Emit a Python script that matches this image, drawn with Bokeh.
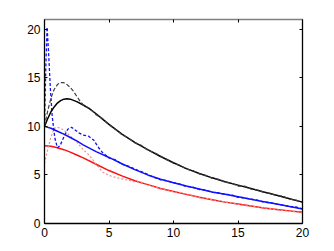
from bokeh.plotting import figure
from bokeh.models import LinearAxis, FixedTicker, Range1d
from bokeh.embed import file_html
from bokeh.resources import INLINE

# ---- data ----
black_x = [0, 0.25, 0.5, 0.75, 1.0, 1.25, 1.5, 1.75, 2.0, 2.5, 3, 3.5, 4, 4.5, 5, 6, 7, 8, 9, 10,
           11, 12, 13, 14, 15, 16, 17, 18, 19, 20]
black_y = [10.0, 10.8, 11.5, 12.0, 12.4, 12.65, 12.8, 12.85, 12.8, 12.55, 12.2, 11.8, 11.3, 10.75,
           10.2, 9.2, 8.35, 7.6, 6.9, 6.25, 5.65, 5.15, 4.7, 4.3, 3.95, 3.6, 3.25, 2.9, 2.55, 2.2]

blackd_x = [0, 0.25, 0.5, 0.75, 1.0, 1.25, 1.5, 1.75, 2.0, 2.25, 2.5, 2.75, 3.0, 3.5, 4, 4.5, 5,
            5.5, 6, 6.5, 7, 7.5, 8, 8.5, 9, 9.5, 10, 10.5, 11, 11.5, 12, 12.5, 13, 13.5, 14, 14.5,
            15, 15.5, 16, 16.5, 17, 17.5, 18, 18.5, 19, 19.5, 20]
blackd_y = [10.0, 11.6, 12.9, 13.8, 14.3, 14.5, 14.5, 14.3, 14.0, 13.6, 13.1, 12.6, 12.2, 11.85,
            11.2, 10.8, 10.15, 9.7, 9.15, 8.8, 8.3, 8.05, 7.55, 7.3, 6.95, 6.55, 6.2, 6.0, 5.6,
            5.45, 5.1, 4.95, 4.65, 4.55, 4.25, 4.15, 3.85, 3.85, 3.55, 3.45, 3.2, 3.1, 2.85, 2.8,
            2.5, 2.4, 2.15]

blue_x = [0, 0.5, 1, 1.5, 2, 2.5, 3, 4, 5, 6, 7, 8, 9, 10, 11, 12, 13, 14, 15, 16, 17, 18, 19, 20]
blue_y = [10.0, 9.8, 9.5, 9.2, 8.85, 8.5, 8.1, 7.4, 6.8, 6.15, 5.55, 5.0, 4.55, 4.2, 3.85, 3.55,
          3.25, 3.0, 2.75, 2.5, 2.25, 2.0, 1.75, 1.5]

blued_x = [0, 0.1, 0.2, 0.3, 0.45, 0.6, 0.8, 1.0, 1.2, 1.5, 1.8, 2.1, 2.4, 2.7, 3.0, 3.4, 3.8, 4.2,
           4.5, 5, 5.5, 6, 6.5, 7, 7.5, 8, 8.5, 9, 9.5, 10, 10.5, 11, 11.5, 12, 12.5, 13, 13.5, 14,
           14.5, 15, 15.5, 16, 16.5, 17, 17.5, 18, 18.5, 19, 19.5, 20]
blued_y = [10.0, 16.0, 20.2, 18.0, 14.0, 11.0, 8.8, 7.8, 8.0, 8.9, 9.7, 9.9, 9.6, 9.3, 9.1, 9.0,
           8.6, 7.8, 7.3, 6.75, 6.55, 6.1, 5.9, 5.6, 5.35, 5.05, 4.75, 4.5, 4.4, 4.2, 4.05, 3.8,
           3.75, 3.5, 3.45, 3.2, 3.15, 3.0, 2.95, 2.7, 2.65, 2.5, 2.4, 2.2, 2.15, 2.0, 1.9, 1.75,
           1.7, 1.5]

red_x = [0, 0.5, 1, 1.5, 2, 2.5, 3, 4, 5, 6, 7, 8, 9, 10, 11, 12, 13, 14, 15, 16, 17, 18, 19, 20]
red_y = [8.0, 7.95, 7.8, 7.6, 7.35, 7.05, 6.75, 6.1, 5.45, 4.9, 4.4, 4.0, 3.6, 3.3, 3.0, 2.7, 2.45,
         2.2, 2.0, 1.8, 1.6, 1.45, 1.3, 1.15]

pink_x = [0, 0.25, 0.5, 0.75, 1.0, 1.25, 1.5, 1.75, 2.0, 2.5, 3, 3.5, 4, 4.5, 5, 5.5, 6, 6.5, 7,
          7.5, 8, 8.5, 9, 9.5, 10, 10.5, 11, 11.5, 12, 12.5, 13, 13.5, 14, 14.5, 15, 15.5, 16,
          16.5, 17, 17.5, 18, 18.5, 19, 19.5, 20]
pink_y = [6.2, 7.6, 8.9, 9.8, 9.9, 9.8, 9.6, 9.3, 9.0, 8.4, 7.6, 7.0, 6.1, 5.3, 4.95, 4.75, 4.6,
          4.45, 4.3, 4.25, 3.95, 3.85, 3.55, 3.5, 3.25, 3.2, 2.95, 2.9, 2.65, 2.6, 2.45, 2.35,
          2.2, 2.15, 2.0, 1.85, 1.8, 1.7, 1.6, 1.55, 1.4, 1.35, 1.25, 1.2, 1.1]

ticks = [0, 5, 10, 15, 20]
FONT = "Liberation Sans"

p = figure(width=332, height=249, x_range=Range1d(0, 20), y_range=Range1d(0, 21),
           output_backend="svg", toolbar_location=None,
           min_border_left=44, min_border_right=30, min_border_top=19, min_border_bottom=26)
p.background_fill_color = "white"
p.border_fill_color = "white"
p.outline_line_color = None
p.xgrid.visible = False
p.ygrid.visible = False

for ax in p.xaxis + p.yaxis:
    ax.ticker = FixedTicker(ticks=ticks)
    ax.major_tick_in = 3
    ax.major_tick_out = 0
    ax.minor_tick_line_color = None
    ax.axis_line_color = "black"
    ax.axis_line_width = 1.3
    ax.major_tick_line_color = "black"
    ax.major_label_text_font = FONT
    ax.major_label_text_font_size = "12px"
    ax.major_label_text_color = "black"
    ax.major_label_standoff = 4

top = LinearAxis(ticker=FixedTicker(ticks=ticks), major_tick_in=3, major_tick_out=0,
                 minor_tick_line_color=None, axis_line_color="#808080", axis_line_width=1.3,
                 major_tick_line_color="black", major_label_text_font_size="0px",
                 major_label_text_color=None, major_label_standoff=0)
right = LinearAxis(ticker=FixedTicker(ticks=ticks), major_tick_in=3, major_tick_out=0,
                   minor_tick_line_color=None, axis_line_color="black", axis_line_width=1.3,
                   major_tick_line_color="black", major_label_text_font_size="0px",
                   major_label_text_color=None, major_label_standoff=0)
p.add_layout(top, "above")
p.add_layout(right, "right")

p.line(red_x, red_y, line_color="#ff1010", line_width=1.5)
p.line(pink_x, pink_y, line_color="#e89090", line_width=1.2, line_dash="2 2")
p.line(blue_x, blue_y, line_color="#1010ff", line_width=1.5)
p.line(blued_x, blued_y, line_color="#1010ff", line_width=1.3, line_dash="3 2")
p.line(black_x, black_y, line_color="black", line_width=1.5)
p.line(blackd_x, blackd_y, line_color="#404040", line_width=1.2, line_dash="4 2")

open("out.html", "w").write(file_html(p, INLINE))
